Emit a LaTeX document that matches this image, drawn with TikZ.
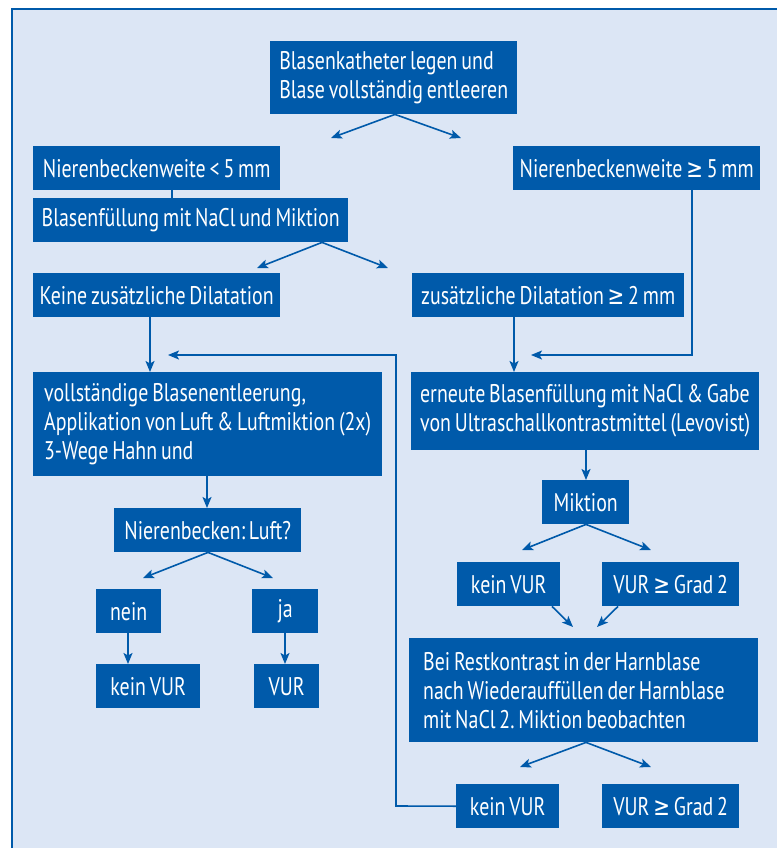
\documentclass[tikz,border=0pt]{standalone}
\usepackage{fontspec}
\setmainfont{PT Sans}[FakeStretch=0.78, WordSpace={0.72,0,0}]
\newfontfamily\symfont{DejaVu Sans}[FakeStretch=0.78]
\usetikzlibrary{arrows.meta}
\definecolor{boxblue}{RGB}{0,90,170}
\definecolor{bgblue}{RGB}{220,230,245}
\newcommand{\geqs}{{\symfont ≥}}
\tikzset{
  x=1pt, y=-1pt,
  box/.style={fill=boxblue, text=white, inner sep=0pt, anchor=north west,
    font=\fontsize{25.5}{29}\selectfont, align=center},
  conn/.style={draw=boxblue, line width=1.6pt},
  arr/.style={conn, -{Stealth[length=11pt, width=9pt, inset=2.5pt]}},
}
\newcommand{\bx}[7]{% name, x1, y1, x2, y2, options, text
  \node[box, minimum width=#4-#2, minimum height=#5-#3, #6] (#1) at (#2,#3) {#7};}
\begin{document}
\frenchspacing
\begin{tikzpicture}
\useasboundingbox (0,0) rectangle (777,848);
\fill[bgblue] (12,9) rectangle (777,848);
\draw[boxblue, line width=2.2pt] (12,848) -- (12,9) -- (777,9);

\bx{b1}{270}{41}{517}{114}{align=left}{Blasenkatheter legen und\\Blase vollständig entleeren}
\bx{b2}{33}{146}{280}{190}{}{Nierenbeckenweite < 5 mm}
\bx{b3}{33}{198}{348}{242}{}{Blasenfüllung mit NaCl und Miktion}
\bx{b4}{513}{146}{760}{190}{}{Nierenbeckenweite \geqs\ 5 mm}
\bx{b5}{33}{273}{280}{317}{}{Keine zusätzliche Dilatation}
\bx{b6}{412}{273}{684}{317}{}{zusätzliche Dilatation \geqs\ 2 mm}
\bx{b7}{33}{372}{382}{476}{align=left}{vollständige Blasenentleerung,\\Applikation von Luft \& Luftmiktion (2x)\\3-Wege Hahn und}
\bx{b8}{411}{372}{759}{450}{align=left}{erneute Blasenfüllung mit NaCl \& Gabe\\von Ultraschallkontrastmittel (Levovist)}
\bx{b9}{114}{508}{301}{552}{}{Nierenbecken: Luft?}
\bx{b10}{542}{480}{629}{524}{}{Miktion}
\bx{b11}{96}{589}{161}{633}{}{nein}
\bx{b12}{252}{589}{318}{633}{}{ja}
\bx{b13}{96}{664}{200}{708}{}{kein VUR}
\bx{b14}{254}{664}{319}{708}{}{VUR}
\bx{b15}{457}{562}{560}{606}{}{kein VUR}
\bx{b16}{602}{562}{739}{606}{}{VUR \geqs\ Grad 2}
\node[box, minimum width=349, minimum height=104, text width=321, inner xsep=14pt, align=flush left] (b17) at (409,638) {Bei Restkontrast in der Harnblase\\nach Wiederauffüllen der Harnblase\\mit NaCl 2. Miktion beobachten};
\bx{b18}{456}{784}{559}{828}{}{kein VUR}
\bx{b19}{602}{784}{739}{828}{}{VUR \geqs\ Grad 2}

% coordinates for free ends
\coordinate (t1a) at (331,138);
\coordinate (t1b) at (461,138);
\coordinate (t3a) at (257,268);
\coordinate (t3b) at (388,268);
\coordinate (t7) at (168,355);
\coordinate (t8) at (531,355);
\coordinate (t9a) at (143,578);
\coordinate (t9b) at (273,578);
\coordinate (t10a) at (522,550);
\coordinate (t10b) at (651,550);
\coordinate (t15) at (573,627);
\coordinate (t16) at (597,627);
\coordinate (t17a) at (520,767);
\coordinate (t17b) at (651,767);

\draw[arr] (b1.south -| 395,0) -- (t1a);
\draw[arr] (b1.south -| 395,0) -- (t1b);
\draw[conn] (b2.south -| 172,0) -- (b3.north -| 172,0);
\draw[arr] (b3.south -| 322,0) -- (t3a);
\draw[arr] (b3.south -| 322,0) -- (t3b);
\draw[arr] (b5.south -| 150,0) -- (b7.north -| 150,0);
\draw[arr] (b6.south -| 514,0) -- (b8.north -| 514,0);
\draw[arr] (b4.south -| 692,0) -- (692,355) -- (t8);
\draw[arr] (b18.west) -- (396,806) -- (396,355) -- (t7);
\draw[arr] (b7.south -| 207,0) -- (b9.north -| 207,0);
\draw[arr] (b9.south -| 208,0) -- (t9a);
\draw[arr] (b9.south -| 208,0) -- (t9b);
\draw[arr] (b11.south -| 128,0) -- (b13.north -| 128,0);
\draw[arr] (b12.south -| 285,0) -- (b14.north -| 285,0);
\draw[arr] (b8.south -| 586,0) -- (b10.north -| 586,0);
\draw[arr] (b10.south -| 586,0) -- (t10a);
\draw[arr] (b10.south -| 586,0) -- (t10b);
\draw[arr] (b15.south -| 552,0) -- (t15);
\draw[arr] (b16.south -| 618,0) -- (t16);
\draw[arr] (b17.south -| 586,0) -- (t17a);
\draw[arr] (b17.south -| 586,0) -- (t17b);
\end{tikzpicture}
\end{document}
